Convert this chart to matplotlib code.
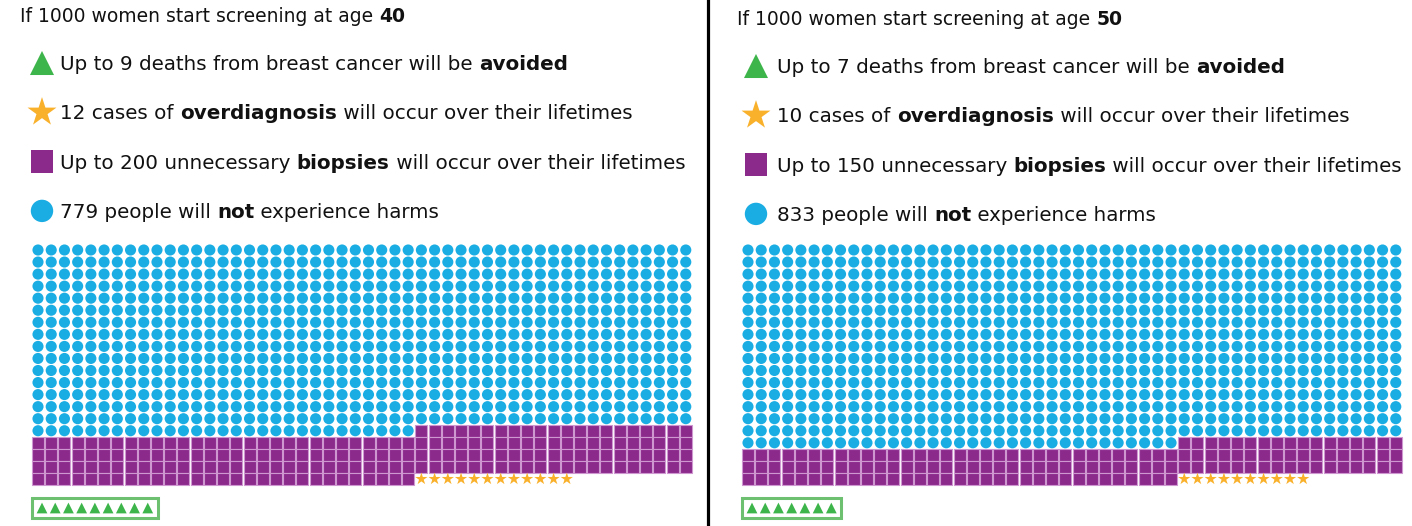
import matplotlib.pyplot as plt
from matplotlib.patches import Rectangle

plt.rcParams['font.family'] = 'DejaVu Sans'

# values shown in the two panels
ages = [40, 50]
deaths_avoided = [9, 7]
overdiagnosis = [12, 10]
biopsies = [200, 150]
no_harm = [779, 833]

COLS = 50
BLUE = '#1aade3'
PURPLE = '#8c2a8c'
PINK_EDGE = '#cf97d0'
ORANGE = '#f9b02a'
GREEN = '#3db54a'
BOX_GREEN = '#6cc070'
FS_TITLE = 13.5
FS = 14.3

fig = plt.figure(figsize=(14.12, 5.26), dpi=100)
ax = fig.add_axes([0, 0, 1, 1])
ax.set_xlim(0, 1412)
ax.set_ylim(526, 0)
ax.axis('off')


def rich_text(x, y, parts, fs):
    """draw a line made of (text, bold) pieces one after the other"""
    prev = None
    for txt, bold in parts:
        w = 'bold' if bold else 'normal'
        if prev is None:
            prev = ax.text(x, y, txt, fontsize=fs, fontweight=w, va='baseline', ha='left', color='#111111')
        else:
            prev = ax.annotate(txt, xy=(1, 0), xycoords=prev, fontsize=fs, fontweight=w,
                               va='bottom', ha='left', color='#111111')


def panel(i, left, title_x, icon_x, text_x, dy0):
    # header and legend lines
    rich_text(title_x, 22 + dy0, [("If 1000 women start screening at age ", False), (str(ages[i]), True)], FS_TITLE)
    rows = [
        ('^', GREEN, 300, [(f"Up to {deaths_avoided[i]} deaths from breast cancer will be ", False), ("avoided", True)]),
        ('*', ORANGE, 480, [(f"{overdiagnosis[i]} cases of ", False), ("overdiagnosis", True),
                            (" will occur over their lifetimes", False)]),
        ('s', PURPLE, 260, [(f"Up to {biopsies[i]} unnecessary ", False), ("biopsies", True),
                            (" will occur over their lifetimes", False)]),
        ('o', BLUE, 260, [(f"{no_harm[i]} people will ", False), ("not", True), (" experience harms", False)]),
    ]
    for k, (m, c, s, parts) in enumerate(rows):
        yc = 63 + dy0 + k * 49.3
        ax.scatter([icon_x], [yc], marker=m, s=s, color=c, edgecolors='none')
        rich_text(text_x, yc + 7, parts, FS)

    # waffle grid, filled row by row from the top
    dx, dy, y0 = 13.22, 12.05, 250
    cells = ['o'] * no_harm[i] + ['s'] * biopsies[i] + ['*'] * overdiagnosis[i]
    xs = {'o': [], 's': [], '*': []}
    ys = {'o': [], 's': [], '*': []}
    for k, m in enumerate(cells):
        xs[m].append(left + (k % COLS) * dx)
        ys[m].append(y0 + (k // COLS) * dy)
    ax.scatter(xs['o'], ys['o'], marker='o', s=64, color=BLUE, edgecolors='none')
    ax.scatter(xs['s'], ys['s'], marker='s', s=70, color=PURPLE, edgecolors=PINK_EDGE, linewidths=0.8)
    ax.scatter(xs['*'], ys['*'], marker='*', s=85, color=ORANGE, edgecolors='none')

    # avoided deaths sit in a separate box under the grid
    n = deaths_avoided[i]
    tx = [left + 4 + j * dx for j in range(n)]
    ax.add_patch(Rectangle((left - 6, 498), (n - 1) * dx + 20, 20, facecolor='white',
                           edgecolor=BOX_GREEN, linewidth=2.2))
    ax.scatter(tx, [508] * n, marker='^', s=60, color=GREEN, edgecolors='none', zorder=3)


panel(0, 38, 20, 42, 60, 0)
panel(1, 748, 737, 756, 777, 3)

ax.plot([708, 708], [0, 526], color='black', linewidth=2.3)

fig.savefig('out.png', dpi=100)
